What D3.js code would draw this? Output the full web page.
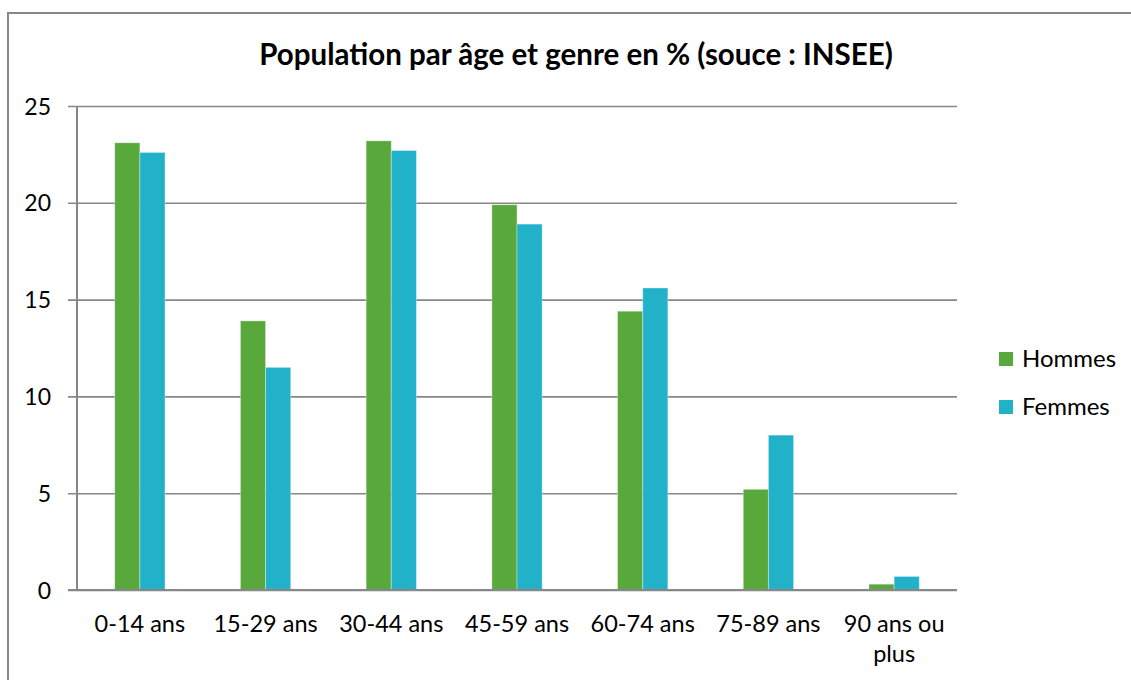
<!DOCTYPE html>
<html>
<head>
<meta charset="utf-8">
<script src="https://cdn.jsdelivr.net/npm/d3@7"></script>
<style>
  html, body { margin: 0; padding: 0; background: #fff; }
  svg { display: block; }
  text { font-family: Lato, "Liberation Sans", sans-serif; fill: #000; }
</style>
</head>
<body>
<svg id="chart" width="1131" height="680"></svg>
<script>
const title = "Population par âge et genre en % (souce : INSEE)";
const categories = ["0-14 ans", "15-29 ans", "30-44 ans", "45-59 ans", "60-74 ans", "75-89 ans", "90 ans ou plus"];
const categoryLines = [["0-14 ans"], ["15-29 ans"], ["30-44 ans"], ["45-59 ans"], ["60-74 ans"], ["75-89 ans"], ["90 ans ou", "plus"]];
const seriesNames = ["Hommes", "Femmes"];
const hommes = [23.1, 13.9, 23.2, 19.9, 14.4, 5.2, 0.3];
const femmes = [22.6, 11.5, 22.7, 18.9, 15.6, 8.0, 0.7];
const yTicks = [0, 5, 10, 15, 20, 25];
const colors = ["#58A83B", "#21B2CA"];

const svg = d3.select("#chart");
const plot = { left: 77, right: 957, top: 106, bottom: 590 };

// outer frame
svg.append("rect")
  .attr("x", 8).attr("y", 13).attr("width", 1140).attr("height", 700)
  .attr("fill", "none").attr("stroke", "#878787").attr("stroke-width", 2);

const x0 = d3.scaleBand().domain(categories).range([plot.left, plot.right])
  .paddingInner(0.6).paddingOuter(0.3);
const x1 = d3.scaleBand().domain(seriesNames).range([0, x0.bandwidth()]);
const y = d3.scaleLinear().domain([0, 25]).range([plot.bottom, plot.top]);

// gridlines
const yAxis = d3.axisLeft(y).tickValues(yTicks).tickSize(plot.right - plot.left + 9).tickFormat(d3.format("d"));
const gy = svg.append("g").attr("transform", `translate(${plot.right},0)`).call(yAxis);
gy.select(".domain").remove();
gy.selectAll(".tick line").attr("stroke", "#878787").attr("stroke-width", 1.6);
gy.selectAll(".tick text").attr("font-size", 23).attr("x", -(plot.right - plot.left) - 26).attr("dy", "0.35em");

// y axis line
svg.append("line").attr("x1", plot.left).attr("x2", plot.left)
  .attr("y1", plot.top).attr("y2", plot.bottom)
  .attr("stroke", "#878787").attr("stroke-width", 2);

// bars
const data = categories.map((c, i) => ({ cat: c, values: [hommes[i], femmes[i]] }));
const groups = svg.append("g").selectAll("g").data(data).join("g")
  .attr("transform", d => `translate(${x0(d.cat)},0)`);
groups.selectAll("rect").data(d => d.values.map((v, j) => ({ name: seriesNames[j], v, j })))
  .join("rect")
  .attr("x", d => x1(d.name))
  .attr("y", d => y(d.v))
  .attr("width", x1.bandwidth())
  .attr("height", d => y(0) - y(d.v))
  .attr("fill", d => colors[d.j])
  .attr("stroke", "rgba(255,255,255,0.35)").attr("stroke-width", 1);

// x axis baseline
svg.append("line").attr("x1", plot.left - 9).attr("x2", plot.right)
  .attr("y1", plot.bottom).attr("y2", plot.bottom)
  .attr("stroke", "#878787").attr("stroke-width", 2);

// category labels
const lab = svg.append("g").selectAll("text").data(categories).join("text")
  .attr("text-anchor", "middle")
  .attr("font-size", 23.5)
  .attr("x", d => x0(d) + x0.bandwidth() / 2)
  .attr("y", 632);
lab.each(function (d, i) {
  const t = d3.select(this);
  categoryLines[i].forEach((line, k) => {
    t.append("tspan").attr("x", x0(d) + x0.bandwidth() / 2).attr("dy", k === 0 ? 0 : 30).text(line);
  });
});

// title
svg.append("text").attr("x", 576).attr("y", 65).attr("text-anchor", "middle")
  .attr("font-size", 29.5).attr("font-weight", "bold").text(title);

// legend
const leg = svg.append("g").selectAll("g").data(seriesNames).join("g")
  .attr("transform", (d, i) => `translate(999, ${352 + i * 48})`);
leg.append("rect").attr("width", 14).attr("height", 14).attr("fill", (d, i) => colors[i]);
leg.append("text").attr("x", 23).attr("y", 7).attr("dy", "0.35em").attr("font-size", 24).text(d => d);
</script>
</body>
</html>
